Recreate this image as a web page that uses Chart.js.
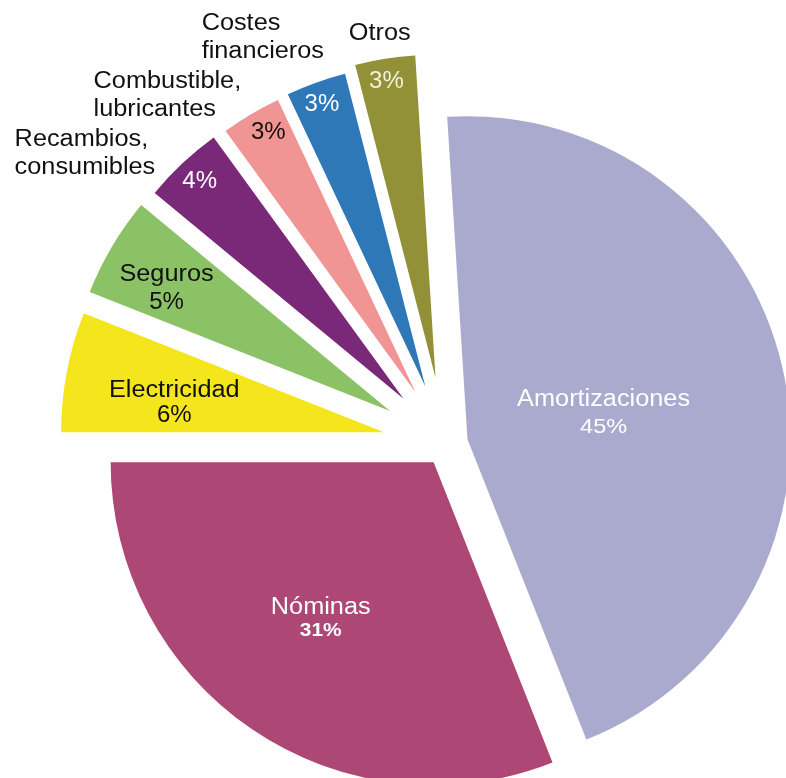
<!DOCTYPE html>
<html>
<head>
<meta charset="utf-8">
<script src="https://cdn.jsdelivr.net/npm/chart.js@4.4.1/dist/chart.umd.min.js"></script>
<style>
  html, body { margin: 0; padding: 0; background: #fff; }
  #wrap { width: 786px; height: 778px; }
</style>
</head>
<body>
<div id="wrap"><canvas id="costs" width="786" height="778"></canvas></div>
<script>
// cost breakdown, percent of total
const labels = [
  'Amortizaciones',
  'Nóminas',
  'Electricidad',
  'Seguros',
  ['Recambios,', 'consumibles'],
  ['Combustible,', 'lubricantes'],
  ['Costes', 'financieros'],
  'Otros'
];
const shares = [45, 31, 6, 5, 4, 3, 3, 3];

const colors = ['#aaaacf', '#ad4775', '#f5e51d', '#8cc266', '#7a2878', '#f09494', '#2e78b8', '#929138'];

// how far each slice is pulled out of the pie, px
const explode = [22, 22, 63, 65, 62, 60, 61, 67];

// label anchors: r = fraction of radius from the slice tip, da = degrees off the slice middle
const innerLabels = [
  { r: 0.429, da: 1.8, name: true, gap: 28, color: '#fff', font: '21px', sx: 1.12 },
  { r: 0.599, da: 1.5, name: true, gap: 23, color: '#fff', font: 'bold 19px', sx: 1.1 },
  { r: 0.656, da: -2.8, name: true, gap: 25, color: '#111', font: '24px', sx: 1 },
  { r: 0.789, da: -1.9, name: true, gap: 27, color: '#111', font: '24px', sx: 1 },
  { r: 0.924, da: 0.1, color: '#fff', font: '24px', sx: 1 },
  { r: 0.925, da: 1.1, color: '#111', font: '24px', sx: 1 },
  { r: 0.932, da: -0.3, color: '#fff', font: '24px', sx: 1 },
  { r: 0.930, da: -0.4, color: '#f3f1df', font: '24px', sx: 1 }
];
const outerLabels = [null, null, null, null,
  { r: 1.423, da: -14.6, align: 'left' },
  { r: 1.356, da: -16.7, align: 'left' },
  { r: 1.282, da: -12.9, align: 'left' },
  { r: 1.080, da: -0.2, align: 'center' }
];

const FONT = '"Liberation Sans", Arial, Helvetica, sans-serif';

function drawText(ctx, text, x, y, font, sx, align, color) {
  ctx.save();
  ctx.translate(x, y);
  ctx.scale(sx, 1);
  ctx.font = font + ' ' + FONT;
  ctx.textAlign = align;
  ctx.textBaseline = 'middle';
  ctx.fillStyle = color;
  ctx.fillText(text, 0, 0);
  ctx.restore();
}

function anchor(arc, r, da) {
  const a = (arc.startAngle + arc.endAngle) / 2 + da * Math.PI / 180;
  const d = r * arc.outerRadius;
  return [arc.x + Math.cos(a) * d, arc.y + Math.sin(a) * d];
}

// pull slices outward along their middle angle, without growing them
const explodePlugin = {
  id: 'explode',
  afterDatasetUpdate(chart, args, opts) {
    const dist = opts.distances || [];
    args.meta.data.forEach((arc, i) => {
      const mid = (arc.startAngle + arc.endAngle) / 2;
      const d = dist[i] || 0;
      arc.x += Math.cos(mid) * d;
      arc.y += Math.sin(mid) * d;
    });
  }
};

const sliceLabels = {
  id: 'sliceLabels',
  afterDatasetsDraw(chart) {
    const ctx = chart.ctx;
    const meta = chart.getDatasetMeta(0);
    meta.data.forEach((arc, i) => {
      const name = [].concat(chart.data.labels[i]);
      const pct = chart.data.datasets[0].data[i] + '%';
      const inn = innerLabels[i];
      const [x, y] = anchor(arc, inn.r, inn.da);
      if (inn.name) {
        drawText(ctx, name.join(' '), x, y - inn.gap / 2, '23px', 1.1, 'center', inn.color);
        drawText(ctx, pct, x, y + inn.gap / 2, inn.font, inn.sx, 'center', inn.color);
      } else {
        drawText(ctx, pct, x, y, inn.font, inn.sx, 'center', inn.color);
      }
      const out = outerLabels[i];
      if (out) {
        const [ox, oy] = anchor(arc, out.r, out.da);
        const lh = 28;
        name.forEach((line, k) => {
          const ly = oy + (k - (name.length - 1) / 2) * lh;
          drawText(ctx, line, ox, ly, '23px', 1.1, out.align, '#111');
        });
      }
    });
  }
};

new Chart(document.getElementById('costs'), {
  type: 'pie',
  data: {
    labels: labels,
    datasets: [{
      data: shares,
      backgroundColor: colors,
      borderWidth: 0,
      radius: 323,
      clip: false
    }]
  },
  options: {
    responsive: false,
    animation: false,
    rotation: -3.6,
    layout: { padding: { left: 106, top: 110, right: 0, bottom: 0 } },
    plugins: {
      legend: { display: false },
      tooltip: { enabled: false },
      explode: { distances: explode }
    }
  },
  plugins: [explodePlugin, sliceLabels]
});
</script>
</body>
</html>
